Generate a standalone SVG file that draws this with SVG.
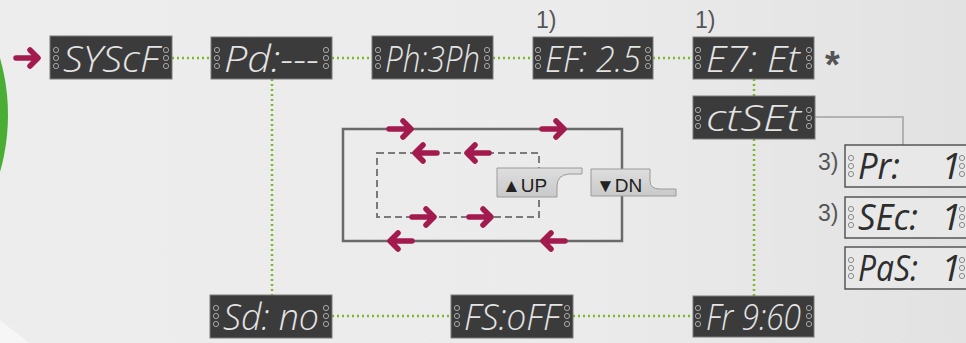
<svg xmlns="http://www.w3.org/2000/svg" xmlns:xlink="http://www.w3.org/1999/xlink" width="966" height="343" viewBox="0 0 966 343">
<defs>
<linearGradient id="bg" x1="0" y1="0" x2="1" y2="0">
<stop offset="0" stop-color="#ededed"/>
<stop offset="0.6" stop-color="#ebebeb"/>
<stop offset="1" stop-color="#e2e2e2"/>
</linearGradient>
<linearGradient id="btn" x1="0" y1="0" x2="0" y2="1">
<stop offset="0" stop-color="#dedede"/>
<stop offset="1" stop-color="#c9c9c9"/>
</linearGradient>
<g id="arr"><path d="M-12,0 H9 M2,-8 L10,0 L2,8" fill="none" stroke="#a31a4e" stroke-width="5.5" stroke-linecap="round" stroke-linejoin="round"/></g>
<g id="dotsL"><circle cx="0" cy="-8" r="2.6"/><circle cx="0" cy="0" r="2.6"/><circle cx="0" cy="8" r="2.6"/></g>
</defs>
<style>
.dbox{fill:#3b3b3b;stroke:#7a7a7a;stroke-width:1}
.dots{fill:none;stroke:#a8a8a8;stroke-width:1}
.ldots{fill:none;stroke:#8a8a8a;stroke-width:1}
.seg{font-family:"Open Sans","Lato","Roboto","Liberation Sans",sans-serif;font-weight:300;font-style:italic;font-size:37px;fill:#e4e4e4}
.segd{font-family:"Open Sans","Lato","Roboto","Liberation Sans",sans-serif;font-weight:400;font-style:italic;font-size:37px;fill:#2e2e2e}
.lbox{fill:#e8e8e8;stroke:#555;stroke-width:1.5}
.green{fill:none;stroke:#7cb82f;stroke-width:2.5;stroke-dasharray:2 3}
.note{font-family:"Liberation Sans",sans-serif;font-size:23px;fill:#555}
.btxt{font-family:"Liberation Sans",sans-serif;font-size:19px;fill:#222}
</style>
<rect x="0" y="0" width="966" height="343" fill="url(#bg)"/>
<path d="M0,320 Q14,331 29,343 L0,343 Z" fill="#f6f6f6"/>
<circle cx="-199" cy="115" r="207" fill="#4aae35"/>

<g id="connectors">
<path class="green" d="M172,58 H211 M332,58 H372 M493,58 H533 M653,58 H693 M754,79 V96 M754,139 V296 M272,79 V295 M332,316 H451 M573,316 H693"/>
<path d="M815,117 H903 V145" fill="none" stroke="#b2b2b2" stroke-width="2"/>
<use xlink:href="#arr" transform="translate(28,58)"/>
</g>

<g id="n-syscf"><rect class="dbox" x="50" y="36" width="122" height="43"/><use class="dots" xlink:href="#dotsL" x="56" y="58"/><use class="dots" xlink:href="#dotsL" x="166" y="58"/><text class="seg" x="63" y="72" textLength="96" lengthAdjust="spacingAndGlyphs">SYScF</text></g>
<g id="n-pd"><rect class="dbox" x="211" y="37" width="121" height="42"/><use class="dots" xlink:href="#dotsL" x="217" y="58"/><use class="dots" xlink:href="#dotsL" x="326" y="58"/><text class="seg" x="224" y="72" textLength="95" lengthAdjust="spacingAndGlyphs">Pd:---</text></g>
<g id="n-ph"><rect class="dbox" x="372" y="36" width="121" height="43"/><use class="dots" xlink:href="#dotsL" x="378" y="58"/><use class="dots" xlink:href="#dotsL" x="487" y="58"/><text class="seg" x="385" y="72" textLength="95" lengthAdjust="spacingAndGlyphs">Ph:3Ph</text></g>
<g id="n-ef"><rect class="dbox" x="533" y="37" width="120" height="42"/><use class="dots" xlink:href="#dotsL" x="538" y="58"/><use class="dots" xlink:href="#dotsL" x="648" y="58"/><text class="seg" x="545" y="72" textLength="96" lengthAdjust="spacingAndGlyphs">EF: 2.5</text><text class="note" x="536" y="28">1)</text></g>
<g id="n-e7"><rect class="dbox" x="693" y="37" width="121" height="42"/><use class="dots" xlink:href="#dotsL" x="698" y="58"/><use class="dots" xlink:href="#dotsL" x="809" y="58"/><text class="seg" x="706" y="72" textLength="94" lengthAdjust="spacingAndGlyphs">E7: Et</text><text class="note" x="695" y="28">1)</text><text x="825" y="78" font-family="Liberation Sans,sans-serif" font-size="38" font-weight="bold" fill="#555">*</text></g>
<g id="n-ctset"><rect class="dbox" x="693" y="96" width="122" height="43"/><use class="dots" xlink:href="#dotsL" x="698" y="118"/><use class="dots" xlink:href="#dotsL" x="809" y="118"/><text class="seg" x="706" y="131" textLength="95" lengthAdjust="spacingAndGlyphs">ctSEt</text></g>

<g id="n-pr"><rect class="lbox" x="845" y="145" width="130" height="42"/><use class="ldots" xlink:href="#dotsL" x="851" y="166"/><use class="ldots" xlink:href="#dotsL" x="962" y="166"/><text class="segd" x="858" y="179" textLength="42" lengthAdjust="spacingAndGlyphs">Pr:</text><text class="segd" x="941" y="179">1</text><text class="note" x="818" y="170" font-size="22">3)</text></g>
<g id="n-sec"><rect class="lbox" x="845" y="197" width="130" height="41"/><use class="ldots" xlink:href="#dotsL" x="851" y="217"/><use class="ldots" xlink:href="#dotsL" x="962" y="217"/><text class="segd" x="858" y="230" textLength="60" lengthAdjust="spacingAndGlyphs">SEc:</text><text class="segd" x="941" y="230">1</text><text class="note" x="818" y="221" font-size="22">3)</text></g>
<g id="n-pas"><rect class="lbox" x="845" y="247" width="130" height="42"/><use class="ldots" xlink:href="#dotsL" x="851" y="268"/><use class="ldots" xlink:href="#dotsL" x="962" y="268"/><text class="segd" x="858" y="281" textLength="60" lengthAdjust="spacingAndGlyphs">PaS:</text><text class="segd" x="941" y="281">1</text></g>

<g id="n-sd"><rect class="dbox" x="210" y="295" width="122" height="43"/><use class="dots" xlink:href="#dotsL" x="216" y="316"/><use class="dots" xlink:href="#dotsL" x="326" y="316"/><text class="seg" x="223" y="330" textLength="96" lengthAdjust="spacingAndGlyphs">Sd: no</text></g>
<g id="n-fs"><rect class="dbox" x="451" y="295" width="122" height="43"/><use class="dots" xlink:href="#dotsL" x="457" y="316"/><use class="dots" xlink:href="#dotsL" x="567" y="316"/><text class="seg" x="464" y="330" textLength="96" lengthAdjust="spacingAndGlyphs">FS:oFF</text></g>
<g id="n-fr"><rect class="dbox" x="693" y="296" width="121" height="41"/><use class="dots" xlink:href="#dotsL" x="698" y="316"/><use class="dots" xlink:href="#dotsL" x="809" y="316"/><text class="seg" x="706" y="330" textLength="95" lengthAdjust="spacingAndGlyphs">Fr 9:60</text></g>

<g id="keys">
<rect x="343" y="129" width="279" height="112" fill="none" stroke="#6a6a6a" stroke-width="2.5"/>
<rect x="377" y="153" width="162" height="64" fill="none" stroke="#7a7a7a" stroke-width="2" stroke-dasharray="7 4"/>
<use xlink:href="#arr" transform="translate(401,129)"/>
<use xlink:href="#arr" transform="translate(554,129)"/>
<use xlink:href="#arr" transform="translate(425,153) rotate(180)"/>
<use xlink:href="#arr" transform="translate(477,153) rotate(180)"/>
<use xlink:href="#arr" transform="translate(424,217)"/>
<use xlink:href="#arr" transform="translate(481,217)"/>
<use xlink:href="#arr" transform="translate(400,241) rotate(180)"/>
<use xlink:href="#arr" transform="translate(553,241) rotate(180)"/>
</g>
<g id="btn-up"><path d="M497,168 H582 V174 H569 Q557,175 557,186 V197 H497 Z" fill="url(#btn)" stroke="#9a9a9a" stroke-width="1"/><text class="btxt" x="502" y="192">▲UP</text></g>
<g id="btn-dn"><path d="M591,169 H650 V181 Q650,189 660,189 H676 V196 H591 Z" fill="url(#btn)" stroke="#9a9a9a" stroke-width="1"/><text class="btxt" x="596" y="192">▼DN</text></g>
</svg>
